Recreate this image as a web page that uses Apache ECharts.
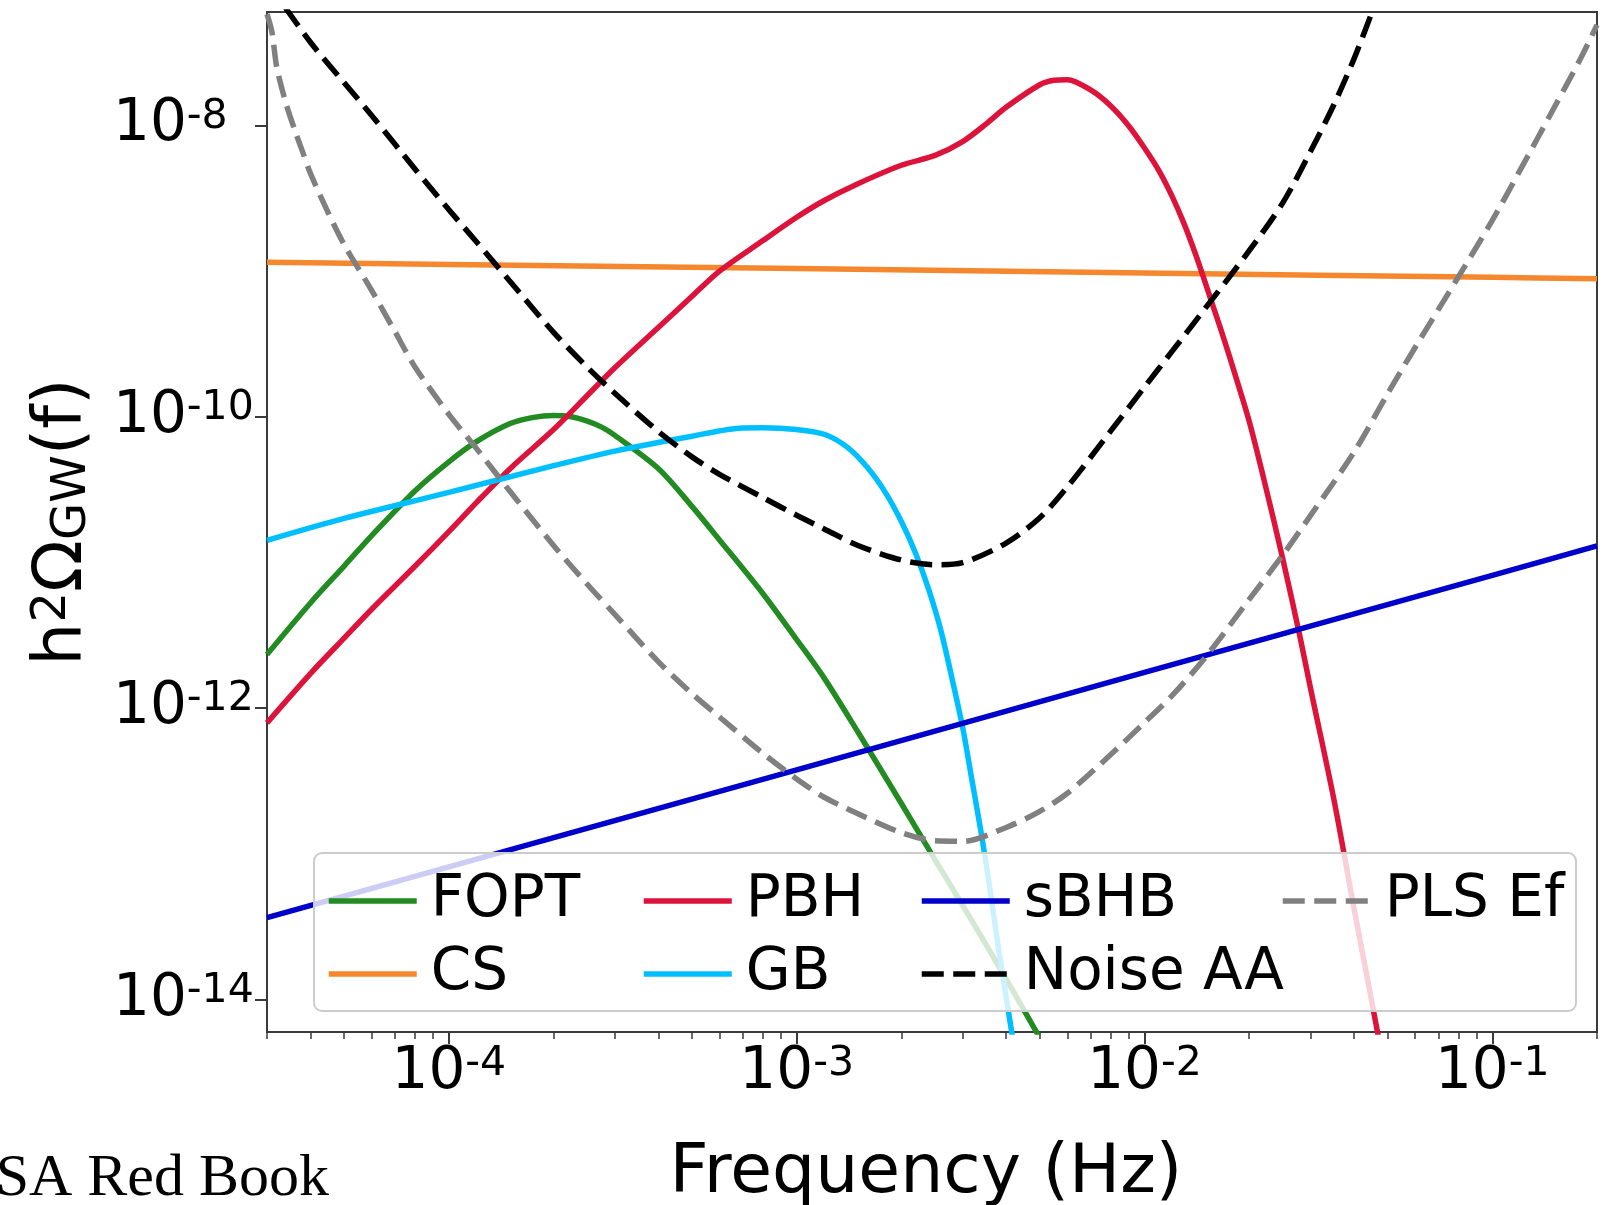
<!DOCTYPE html>
<html>
<head>
<meta charset="utf-8">
<script src="https://cdn.jsdelivr.net/npm/echarts@6/dist/echarts.min.js"></script>
<style>
  html, body { margin: 0; padding: 0; background: #ffffff; }
  #chart { width: 1610px; height: 1205px; }
</style>
</head>
<body>
<div id="chart"></div>
<script>
// Gravitational-wave background spectra h^2 Omega_GW(f) versus frequency (Hz)

// First-order phase transition
const FOPT_F = [3e-5, 4e-5, 5e-5, 6e-5, 8e-5, 1e-4, 1.2e-4, 1.5e-4, 1.75e-4, 2e-4, 2.25e-4, 2.5e-4, 2.75e-4, 3e-4,
  4e-4, 5e-4, 6e-4, 8e-4, 1e-3, 1.2e-3, 1.5e-3, 2e-3, 2.5e-3, 3e-3, 4e-3, 5e-3, 6e-3];
const FOPT_OMEGA = [2.34e-12, 5.28e-12, 9.46e-12, 1.53e-11, 3.11e-11, 4.91e-11, 6.75e-11, 8.99e-11, 9.91e-11,
  1.02e-10, 1.00e-10, 9.33e-11, 8.49e-11, 7.46e-11, 4.42e-11, 2.43e-11, 1.43e-11, 6.11e-12, 2.96e-12, 1.61e-12,
  6.87e-13, 2.22e-13, 9.10e-14, 4.45e-14, 1.39e-14, 5.47e-15, 2.57e-15];

// Cosmic strings
const CS_F = [3e-5, 1e-4, 1e-3, 1e-2, 1e-1, 0.2];
const CS_OMEGA = [1.15e-9, 1.11e-9, 1.04e-9, 9.70e-10, 9.06e-10, 8.87e-10];

// Primordial black holes
const PBH_F = [3e-5, 4e-5, 5e-5, 6e-5, 8e-5, 1e-4, 1.2e-4, 1.5e-4, 2e-4, 2.5e-4, 3e-4, 4e-4, 5e-4, 6e-4, 8e-4,
  1e-3, 1.2e-3, 1.5e-3, 2e-3, 2.5e-3, 3e-3, 3.5e-3, 4e-3, 5e-3, 5.5e-3, 6e-3, 7e-3, 8e-3, 9e-3,
  1e-2, 1.1e-2, 1.2e-2, 1.3e-2, 1.4e-2, 1.5e-2, 1.6e-2, 1.7e-2, 1.8e-2, 2e-2, 2.2e-2, 2.5e-2, 2.8e-2, 3e-2,
  3.5e-2, 4e-2, 4.5e-2, 5e-2];
const PBH_OMEGA = [7.94e-13, 1.73e-12, 3.03e-12, 4.78e-12, 9.46e-12, 1.63e-11, 2.58e-11, 4.41e-11, 8.17e-11, 1.40e-10,
  2.17e-10, 4.10e-10, 6.71e-10, 1.00e-9, 1.62e-9, 2.34e-9, 3.05e-9, 3.98e-9, 5.33e-9, 6.22e-9, 7.74e-9, 1.02e-8,
  1.33e-8, 1.90e-8, 2.04e-8, 2.06e-8, 1.75e-8, 1.36e-8, 9.95e-9, 7.00e-9, 4.90e-9, 3.27e-9, 2.11e-9, 1.32e-9,
  8.13e-10, 5.13e-10, 3.31e-10, 2.14e-10, 9.33e-11, 3.80e-11, 1.05e-11, 3.09e-12, 1.38e-12, 2.40e-13, 4.27e-14,
  9.77e-15, 2.57e-15];

// Galactic binaries
const GB_F = [3e-5, 5e-5, 1e-4, 2e-4, 3e-4, 5e-4, 7e-4, 8e-4, 1e-3, 1.2e-3, 1.4e-3, 1.6e-3, 1.8e-3, 2e-3, 2.2e-3,
  2.4e-3, 2.6e-3, 2.8e-3, 3e-3, 3.2e-3, 3.4e-3, 3.6e-3, 3.8e-3, 4e-3, 4.2e-3, 4.5e-3];
const GB_OMEGA = [1.42e-11, 2.01e-11, 3.03e-11, 4.62e-11, 5.82e-11, 7.36e-11, 8.39e-11, 8.41e-11, 8.18e-11, 7.59e-11,
  6.17e-11, 4.47e-11, 3.02e-11, 1.91e-11, 1.15e-11, 6.46e-12, 3.39e-12, 1.58e-12, 7.41e-13, 3.09e-13, 1.35e-13,
  5.62e-14, 2.29e-14, 1.05e-14, 5.01e-15, 1.58e-15];

// Stellar-origin black hole binaries
const SBHB_F = [3e-5, 1e-4, 1e-3, 1e-2, 1e-1, 0.2];
const SBHB_OMEGA = [3.66e-14, 8.15e-14, 3.78e-13, 1.76e-12, 8.17e-12, 1.30e-11];

// Instrument noise, AA channel
const NOISE_F = [3e-5, 3.3e-5, 4e-5, 5e-5, 6e-5, 8e-5, 1e-4, 1.2e-4, 1.5e-4, 2e-4, 2.5e-4, 3e-4, 4e-4, 5e-4, 6e-4,
  8e-4, 1e-3, 1.2e-3, 1.5e-3, 2e-3, 2.5e-3, 3e-3, 4e-3, 5e-3, 6e-3, 8e-3, 1e-2, 1.2e-2, 1.5e-2, 2e-2, 2.5e-2,
  3e-2, 3.5e-2, 4e-2, 4.5e-2, 5e-2];
const NOISE_OMEGA = [9.55e-8, 7.01e-8, 3.72e-8, 1.96e-8, 1.17e-8, 5.00e-9, 2.64e-9, 1.59e-9, 8.49e-10, 3.80e-10,
  2.19e-10, 1.45e-10, 7.94e-11, 5.31e-11, 4.03e-11, 2.79e-11, 2.11e-11, 1.70e-11, 1.31e-11, 1.04e-11, 9.66e-12,
  1.00e-11, 1.36e-11, 2.03e-11, 3.30e-11, 8.00e-11, 1.60e-10, 2.81e-10, 5.61e-10, 1.38e-9, 2.95e-9, 6.61e-9,
  1.38e-8, 2.85e-8, 5.89e-8, 1.10e-7];

// Power-law integrated sensitivity
const PLS_F = [3e-5, 3.1e-5, 3.2e-5, 3.4e-5, 3.6e-5, 3.8e-5, 4e-5, 4.5e-5, 5e-5, 6e-5, 7e-5, 8e-5, 1e-4, 1.2e-4,
  1.5e-4, 2e-4, 2.5e-4, 3e-4, 4e-4, 5e-4, 6e-4, 8e-4, 1e-3, 1.2e-3, 1.5e-3, 2e-3, 2.5e-3, 3e-3, 4e-3, 5e-3, 6e-3,
  8e-3, 1e-2, 1.2e-2, 1.5e-2, 2e-2, 2.5e-2, 3e-2, 4e-2, 5e-2, 6e-2, 8e-2, 0.1, 0.12, 0.15, 0.18, 0.2];
const PLS_OMEGA = [5.8e-8, 4.37e-8, 2.51e-8, 1.42e-8, 9.38e-9, 6.55e-9, 4.68e-9, 2.51e-9, 1.52e-9, 7.36e-10,
  3.84e-10, 2.19e-10, 1.04e-10, 6.07e-11, 3.07e-11, 1.31e-11, 7.10e-12, 4.41e-12, 2.09e-12, 1.26e-12, 8.71e-13,
  4.90e-13, 3.27e-13, 2.45e-13, 1.89e-13, 1.40e-13, 1.23e-13, 1.22e-13, 1.52e-13, 1.96e-13, 2.61e-13, 4.81e-13,
  7.98e-13, 1.22e-12, 2.25e-12, 5.58e-12, 1.13e-11, 2.10e-11, 5.70e-11, 1.44e-10, 2.99e-10, 9.18e-10, 2.23e-9,
  4.89e-9, 1.30e-8, 2.92e-8, 4.90e-8];

// Axis ticks
const X_MAJOR = [1e-4, 1e-3, 1e-2, 1e-1];
const X_MINOR = [3e-5, 4e-5, 5e-5, 6e-5, 7e-5, 8e-5, 9e-5,
  2e-4, 3e-4, 4e-4, 5e-4, 6e-4, 7e-4, 8e-4, 9e-4,
  2e-3, 3e-3, 4e-3, 5e-3, 6e-3, 7e-3, 8e-3, 9e-3,
  2e-2, 3e-2, 4e-2, 5e-2, 6e-2, 7e-2, 8e-2, 9e-2, 2e-1];
const Y_MAJOR = [1e-14, 1e-12, 1e-10, 1e-8];

const FONT = 'DejaVu Sans';
const AXIS_COLOR = '#3a3a3a';
const DASH = [22, 9.5];

const pairs = (xs, ys) => xs.map((x, i) => [x, ys[i]]);

const curves = [
  { name: 'FOPT', f: FOPT_F, v: FOPT_OMEGA, color: '#228B22', type: 'solid' },
  { name: 'CS', f: CS_F, v: CS_OMEGA, color: '#F5872F', type: 'solid' },
  { name: 'PBH', f: PBH_F, v: PBH_OMEGA, color: '#DC143C', type: 'solid' },
  { name: 'GB', f: GB_F, v: GB_OMEGA, color: '#00BFFF', type: 'solid' },
  { name: 'sBHB', f: SBHB_F, v: SBHB_OMEGA, color: '#0000CD', type: 'solid' },
  { name: 'Noise AA', f: NOISE_F, v: NOISE_OMEGA, color: '#000000', type: DASH },
  { name: 'PLS Ef', f: PLS_F, v: PLS_OMEGA, color: '#808080', type: DASH }
];

const powerLabel = (v) => '{b|10}{s|' + Math.round(Math.log10(v)) + '}';
const powerRich = {
  b: { fontFamily: FONT, fontSize: 58, lineHeight: 58, color: '#000', verticalAlign: 'middle' },
  s: { fontFamily: FONT, fontSize: 41, lineHeight: 34, color: '#000', verticalAlign: 'top' }
};

const legendColumns = [
  { left: 326, data: ['FOPT', 'CS'] },
  { left: 641, data: ['PBH', 'GB'] },
  { left: 919, data: ['sBHB', 'Noise AA'] },
  { left: 1280, data: ['PLS Ef'] }
];

const chart = echarts.init(document.getElementById('chart'), null, { renderer: 'canvas' });

chart.setOption({
  animation: false,
  backgroundColor: '#ffffff',
  grid: {
    left: 267, right: 13, top: 12, bottom: 173,
    outerBoundsMode: 'none',
    show: true, borderColor: AXIS_COLOR, borderWidth: 2, backgroundColor: 'transparent'
  },
  xAxis: [
    {
      type: 'log', logBase: 10, min: 3e-5, max: 0.2, position: 'bottom',
      axisLine: { show: false },
      splitLine: { show: false },
      axisTick: { show: true, inside: false, length: 12, customValues: X_MAJOR,
        lineStyle: { color: AXIS_COLOR, width: 2 } },
      axisLabel: { show: true, customValues: X_MAJOR, margin: 12, formatter: powerLabel, rich: powerRich },
      name: 'Frequency (Hz)', nameLocation: 'middle', nameGap: 108,
      nameTextStyle: { fontFamily: FONT, fontSize: 68, color: '#000', padding: [0, 12, 0, 0] }
    },
    {
      type: 'log', logBase: 10, min: 3e-5, max: 0.2, position: 'bottom', gridIndex: 0,
      axisLine: { show: false },
      splitLine: { show: false },
      axisTick: { show: true, inside: false, length: 7, customValues: X_MINOR,
        lineStyle: { color: AXIS_COLOR, width: 1.5 } },
      axisLabel: { show: false }
    }
  ],
  yAxis: {
    type: 'log', logBase: 10, min: 6e-15, max: 6e-8,
    axisLine: { show: false },
    splitLine: { show: false },
    axisTick: { show: true, inside: false, length: 12, customValues: Y_MAJOR,
      lineStyle: { color: AXIS_COLOR, width: 2 } },
    axisLabel: { show: true, customValues: Y_MAJOR, margin: 154, align: 'left',
      formatter: powerLabel, rich: powerRich },
    name: '{a|h}{p|2}{a|Ω}{q|GW}{a|(f)}',
    nameLocation: 'middle', nameGap: 170,
    nameTextStyle: {
      fontFamily: FONT, fontSize: 68, color: '#000',
      rich: {
        a: { fontFamily: FONT, fontSize: 68, lineHeight: 68, color: '#000', verticalAlign: 'middle' },
        p: { fontFamily: FONT, fontSize: 48, lineHeight: 47, color: '#000', verticalAlign: 'top' },
        q: { fontFamily: FONT, fontSize: 48, lineHeight: 39, color: '#000', verticalAlign: 'bottom' }
      }
    }
  },
  legend: legendColumns.map((col) => ({
    orient: 'vertical', left: col.left, top: 871, padding: 0,
    itemGap: 13, itemWidth: 88, itemHeight: 8,
    selectedMode: false,
    data: col.data,
    lineStyle: { width: 5.5 },
    itemStyle: { opacity: 0 },
    textStyle: { fontFamily: FONT, fontSize: 58, lineHeight: 60, color: '#000', padding: [0, 0, 0, 9] },
    z: 8
  })),
  graphic: [
    {
      type: 'rect', left: 313, top: 852, z: 6, silent: true,
      shape: { width: 1262, height: 158, r: 8 },
      style: { fill: 'rgba(255,255,255,0.8)', stroke: '#cccccc', lineWidth: 2 }
    },
    {
      type: 'text', right: 1281, bottom: -4, silent: true,
      style: { text: 'SA Red Book', fontFamily: 'Liberation Serif', fontSize: 60, fill: '#000' }
    }
  ],
  series: curves.map((c) => ({
    type: 'line', name: c.name,
    xAxisIndex: 0, yAxisIndex: 0,
    data: pairs(c.f, c.v),
    symbol: 'none', showSymbol: false,
    smooth: 0.3,
    clip: true, silent: true, z: 2,
    itemStyle: { color: c.color },
    lineStyle: { color: c.color, width: 5.5, type: c.type, join: 'round' }
  }))
});
</script>
</body>
</html>
